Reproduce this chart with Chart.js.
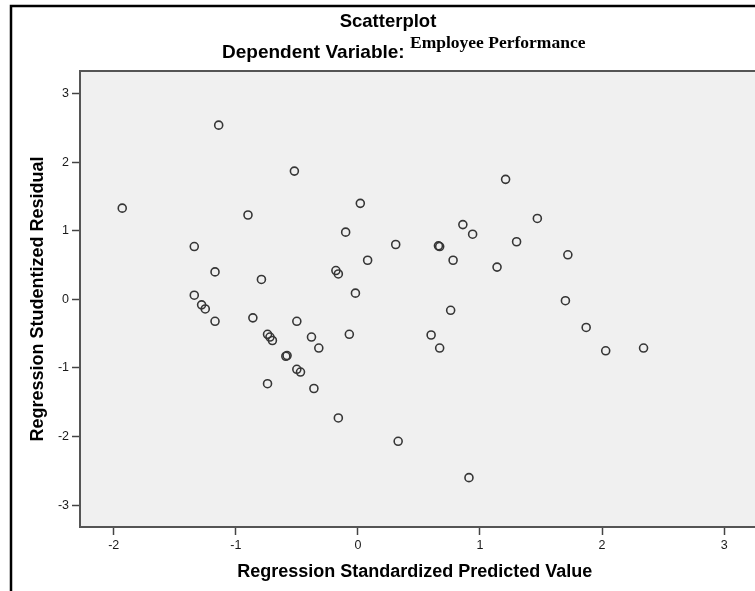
<!DOCTYPE html>
<html lang="en">

<head>
    <meta charset="UTF-8">
    <title>Scatterplot</title>
    <script src="https://cdn.jsdelivr.net/npm/chart.js"></script>
    <style>
        body {
            margin: 0;
            padding: 0;
            background: #ffffff;
        }

        .chart-container {
            width: 755px;
            height: 591px;
            position: relative;
        }
    </style>
</head>

<body>
    <div class="chart-container">
        <canvas id="residualPlot"></canvas>
    </div>

    <script>
        // Regression Standardized Predicted Value (x)
        const predicted = [
            -1.93, -1.14, -0.52, -0.90, 0.02, -1.34, -0.10, -1.17, -0.79, -0.18,
            -0.16, 0.08, 0.31, 0.66, 0.67, 0.86, 0.94, 1.21, 1.47, 1.30,
            0.78, 1.14, 1.72, -1.34, -1.28, -1.25, -1.17, -0.86, -0.50, -0.02,
            -0.74, -0.72, -0.70, -0.38, -0.32, -0.07, -0.59, -0.58, -0.50, -0.47,
            -0.74, -0.36, -0.16, 0.33, 0.60, 0.67, 0.76, 1.70, 1.87, 2.03,
            2.34, 0.91
        ];

        // Regression Studentized Residual (y)
        const residual = [
            1.33, 2.54, 1.87, 1.23, 1.40, 0.77, 0.98, 0.40, 0.29, 0.42,
            0.37, 0.57, 0.80, 0.78, 0.77, 1.09, 0.95, 1.75, 1.18, 0.84,
            0.57, 0.47, 0.65, 0.06, -0.08, -0.14, -0.32, -0.27, -0.32, 0.09,
            -0.51, -0.55, -0.60, -0.55, -0.71, -0.51, -0.83, -0.82, -1.02, -1.06,
            -1.23, -1.30, -1.73, -2.07, -0.52, -0.71, -0.16, -0.02, -0.41, -0.75,
            -0.71, -2.60
        ];

        const xTicks = [-2, -1, 0, 1, 2, 3];
        const yTicks = [-3, -2, -1, 0, 1, 2, 3];

        const points = predicted.map((x, i) => ({ x: x, y: residual[i] }));

        // Background, frame and the two title lines
        const framePlugin = {
            id: 'frame',
            beforeDraw(chart) {
                const { ctx, chartArea } = chart;
                ctx.save();
                ctx.fillStyle = '#f0f0f0';
                ctx.fillRect(chartArea.left, chartArea.top, chart.width - chartArea.left, chartArea.bottom - chartArea.top);
                ctx.strokeStyle = '#555555';
                ctx.lineWidth = 2;
                ctx.beginPath();
                ctx.moveTo(chartArea.left, chartArea.top);
                ctx.lineTo(chart.width, chartArea.top);
                ctx.stroke();
                ctx.restore();
            },
            afterDraw(chart) {
                const { ctx } = chart;
                ctx.save();
                // bottom axis line carried on to the right edge
                ctx.strokeStyle = '#555555';
                ctx.lineWidth = 2;
                ctx.beginPath();
                ctx.moveTo(chart.chartArea.right - 1, chart.chartArea.bottom);
                ctx.lineTo(chart.width, chart.chartArea.bottom);
                ctx.stroke();

                // outer black frame
                ctx.strokeStyle = '#000000';
                ctx.lineWidth = 2.5;
                ctx.beginPath();
                ctx.moveTo(11, 591);
                ctx.lineTo(11, 6);
                ctx.lineTo(755, 6);
                ctx.stroke();

                ctx.fillStyle = '#000000';
                ctx.textBaseline = 'alphabetic';
                ctx.textAlign = 'center';
                ctx.font = 'bold 18.5px "Liberation Sans", Arial, sans-serif';
                ctx.fillText('Scatterplot', 388, 27);

                ctx.textAlign = 'left';
                ctx.font = 'bold 19px "Liberation Sans", Arial, sans-serif';
                ctx.fillText('Dependent Variable:', 222, 58);
                ctx.font = 'bold 17.5px "Liberation Serif", "Times New Roman", serif';
                ctx.fillText('Employee Performance', 410, 48);
                ctx.restore();
            }
        };

        const ctx1 = document.getElementById('residualPlot').getContext('2d');
        new Chart(ctx1, {
            type: 'scatter',
            data: {
                datasets: [{
                    label: 'Residual',
                    data: points,
                    pointStyle: 'circle',
                    pointRadius: 4,
                    pointHoverRadius: 4,
                    borderWidth: 1.6,
                    borderColor: '#363636',
                    backgroundColor: 'rgba(0, 0, 0, 0)'
                }]
            },
            options: {
                responsive: true,
                maintainAspectRatio: false,
                animation: false,
                layout: {
                    padding: { top: 71, left: 0, right: 0, bottom: 0 }
                },
                plugins: {
                    legend: { display: false },
                    tooltip: { enabled: false }
                },
                scales: {
                    x: {
                        type: 'linear',
                        min: -2.276,
                        max: 3.207,
                        afterFit(scale) { scale.height = 64; },
                        afterBuildTicks(scale) { scale.ticks = xTicks.map(v => ({ value: v })); },
                        ticks: {
                            padding: 3,
                            color: '#1a1a1a',
                            font: { family: '"Liberation Sans", Arial, sans-serif', size: 12.5 }
                        },
                        grid: {
                            drawOnChartArea: false,
                            drawTicks: true,
                            tickLength: 8,
                            tickWidth: 1.5,
                            tickColor: '#444444'
                        },
                        border: { color: '#555555', width: 2 },
                        title: {
                            display: true,
                            text: 'Regression Standardized Predicted Value',
                            color: '#000000',
                            padding: { top: 0, bottom: 8 },
                            font: { family: '"Liberation Sans", Arial, sans-serif', size: 18, weight: 'bold' }
                        }
                    },
                    y: {
                        type: 'linear',
                        min: -3.32,
                        max: 3.33,
                        afterFit(scale) { scale.width = 80; },
                        afterBuildTicks(scale) { scale.ticks = yTicks.map(v => ({ value: v })); },
                        ticks: {
                            padding: 3,
                            color: '#1a1a1a',
                            font: { family: '"Liberation Sans", Arial, sans-serif', size: 12.5 }
                        },
                        grid: {
                            drawOnChartArea: false,
                            drawTicks: true,
                            tickLength: 8,
                            tickWidth: 1.5,
                            tickColor: '#444444'
                        },
                        border: { color: '#555555', width: 2 },
                        title: {
                            display: true,
                            text: 'Regression Studentized Residual',
                            color: '#000000',
                            padding: { top: 27, bottom: 0 },
                            font: { family: '"Liberation Sans", Arial, sans-serif', size: 18, weight: 'bold' }
                        }
                    }
                }
            },
            plugins: [framePlugin]
        });
    </script>
</body>

</html>
